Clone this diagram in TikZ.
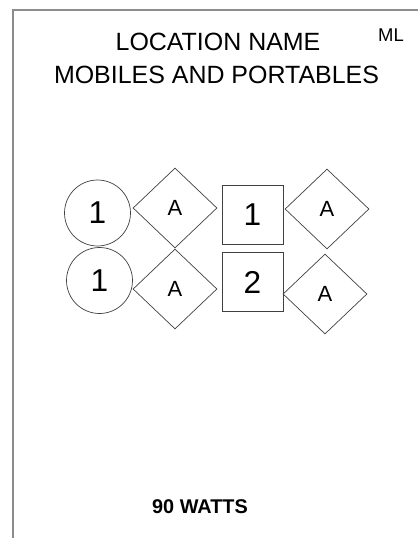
\documentclass[tikz,border=0pt]{standalone}
\usepackage{fontspec}
\setmainfont{Liberation Sans}
\usetikzlibrary{shapes.geometric}

\begin{document}
\begin{tikzpicture}[
    x=0.02cm, y=-0.02cm,
    title/.style={font=\fontsize{14.2}{16}\selectfont, anchor=base, inner sep=0pt},
    radio/.style={draw=black!75, circle, minimum size=1.32cm, inner sep=0pt, font=\fontsize{18}{20}\selectfont},
    unit/.style={draw=black!75, rectangle, minimum width=1.22cm, minimum height=1.18cm, inner sep=0pt, font=\fontsize{18}{20}\selectfont},
    ant/.style={draw=black!75, diamond, minimum width=1.68cm, minimum height=1.6cm, inner sep=0pt, font=\fontsize{12.5}{14}\selectfont}
]

    \useasboundingbox (0, 0) rectangle (418, 538);
    \draw [black!45, line width=0.6pt] (418, 10) -- (13, 10) -- (13, 538);

    \node [title] (loc) at (218, 50) {LOCATION NAME};
    \node [title] (mob) at (216.5, 83) {MOBILES AND PORTABLES};
    \node [title, font=\fontsize{10.5}{12}\selectfont] (ml) at (391, 41) {ML};

    \node [radio] (c1) at (97.5, 213) {1};
    \node [radio] (c2) at (99.5, 280.5) {1};
    \node [ant] (a1) at (175, 208) {A};
    \node [ant] (a2) at (175, 289) {A};
    \node [unit] (s1) at (252.5, 214.5) {1};
    \node [unit] (s2) at (252.5, 282) {2};
    \node [ant] (a3) at (327, 209) {A};
    \node [ant] (a4) at (325, 294) {A};

    \node [title, font=\bfseries\fontsize{11.3}{13}\selectfont] (watts) at (200, 513) {90 WATTS};

\end{tikzpicture}
\end{document}
